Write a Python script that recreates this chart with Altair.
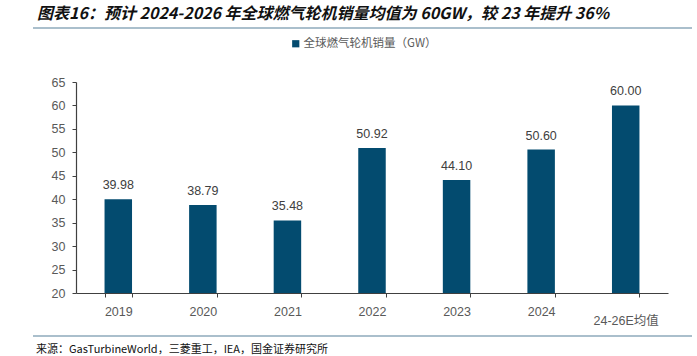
import altair as alt
import pandas as pd

categories = ["2019", "2020", "2021", "2022", "2023", "2024", "24-26E均值"]
values = [39.98, 38.79, 35.48, 50.92, 44.10, 50.60, 60.00]
series_name = "全球燃气轮机销量（GW）"
y_ticks = [20, 25, 30, 35, 40, 45, 50, 55, 60, 65]
title_text = "图表16：预计 2024-2026 年全球燃气轮机销量均值为 60GW，较 23 年提升 36%"
source_text = "来源：GasTurbineWorld，三菱重工，IEA，国金证券研究所"

bar_color = "#034B6F"
line_color = "#8EAABB"
latin = "Liberation Sans, Noto Sans CJK SC, sans-serif"
cjk = "Noto Sans CJK SC, sans-serif"

df = pd.DataFrame({"cat": categories, "value": values, "series": [series_name] * len(categories)})

x_enc = alt.X(
    "cat:N",
    sort=categories,
    scale=alt.Scale(paddingInner=0.675, paddingOuter=0.3375),
    axis=alt.Axis(
        title=None,
        labelAngle=0,
        labelFont=latin,
        labelFontSize=12.5,
        labelColor="#595959",
        labelPadding=8,
        labelLineHeight=9,
        labelExpr="datum.value == '24-26E均值' ? ['', datum.value] : datum.value",
        tickBand="extent",
        tickSize=4,
        tickColor="#404040",
        domainColor="#404040",
        domainWidth=1.2,
    ),
)
y_enc = alt.Y(
    "value:Q",
    scale=alt.Scale(domain=[20, 65], nice=False, zero=False),
    axis=alt.Axis(
        title=None,
        values=y_ticks,
        tickCount=10,
        grid=False,
        labelOverlap=False,
        labelFont=latin,
        labelFontSize=12.5,
        labelColor="#595959",
        labelPadding=7,
        tickSize=4,
        tickColor="#404040",
        domainColor="#404040",
        domainWidth=1.2,
    ),
)

base = alt.Chart(df).encode(x=x_enc, y=y_enc)

bars = base.mark_bar().encode(
    y2=alt.datum(20),
    color=alt.Color(
        "series:N",
        scale=alt.Scale(range=[bar_color]),
        legend=alt.Legend(
            title=None,
            orient="none",
            legendX=214,
            legendY=-44,
            symbolType="square",
            symbolSize=52,
            symbolStrokeWidth=0,
            labelFont=cjk,
            labelFontSize=11.5,
            labelColor="#595959",
            labelOffset=2,
        ),
    ),
)

labels = base.mark_text(
    baseline="alphabetic", dy=-10, font=latin, fontSize=12.5, color="#404040"
).encode(
    text=alt.Text("value:Q", format=".2f"),
)

one = alt.Data(values=[{"k": 1}])

title = alt.Chart(one).mark_text(
    text=title_text, align="left", baseline="middle", font=cjk, fontSize=16,
    fontWeight="bold", fontStyle="italic", color="#111111"
).encode(x=alt.value(-39), y=alt.value(-68))

source = alt.Chart(one).mark_text(
    text=source_text, align="left", baseline="middle", font=cjk, fontSize=11, color="#111111"
).encode(x=alt.value(-40), y=alt.value(268))

line_top = alt.Chart(one).mark_rule(color=line_color, strokeWidth=1.5).encode(
    x=alt.value(-43), x2=alt.value(616), y=alt.value(-54)
)
line_bottom = alt.Chart(one).mark_rule(color=line_color, strokeWidth=1.5).encode(
    x=alt.value(-43), x2=alt.value(616), y=alt.value(254)
)

chart = alt.layer(bars, labels, title, source, line_top, line_bottom).properties(
    width=592,
    height=211,
    padding={"left": 76, "top": 82, "right": 29, "bottom": 63},
    autosize=alt.AutoSizeParams(type="none"),
    background="white",
).configure_view(stroke=None)

chart.save("out.html", embed_options={"renderer": "svg", "actions": False})
